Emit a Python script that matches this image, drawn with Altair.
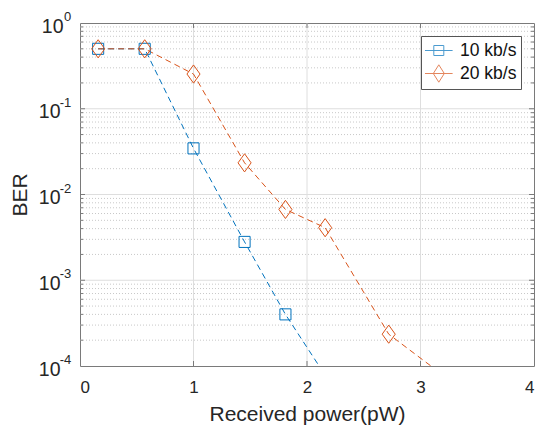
import altair as alt
import pandas as pd

# ---- data ----
series_names = ["10 kb/s", "20 kb/s"]
x_10 = [0.16, 0.57, 1.00, 1.45, 1.81, 2.16]
ber_10 = [0.5, 0.5, 0.0345, 0.0028, 0.00040, 0.000078]
x_20 = [0.16, 0.57, 1.00, 1.45, 1.81, 2.16, 2.72, 3.30]
ber_20 = [0.5, 0.5, 0.254, 0.0234, 0.0067, 0.0041, 0.000235, 0.000062]

x_ticks = [0, 1, 2, 3, 4]
x_grid = [1, 2, 3]
y_ticks = [1e-4, 1e-3, 1e-2, 1e-1, 1.0]
y_tick_base = "10"
y_tick_exponents = ["-4", "-3", "-2", "-1", "0"]
y_grid = [1e-3, 1e-2, 1e-1]
y_minor = [m * 10.0 ** e for e in range(-4, 0) for m in range(2, 10)]

colors = ["#0072BD", "#D95319"]
FONT = "Liberation Sans"
W, H = 454, 343

rows = []
for i, (x, y) in enumerate(zip(x_10, ber_10)):
    rows.append({"power": x, "ber": y, "series": series_names[0], "idx": i})
for i, (x, y) in enumerate(zip(x_20, ber_20)):
    rows.append({"power": x, "ber": y, "series": series_names[1], "idx": i})
df = pd.DataFrame(rows)

xscale = alt.Scale(domain=[0, 4], nice=False, zero=False)
yscale = alt.Scale(type="log", domain=[1e-4, 1], nice=False)
cscale = alt.Scale(domain=series_names, range=colors)

xaxis = alt.Axis(values=x_ticks, grid=False, ticks=False, tickSize=0, domain=False,
                 labelPadding=13, titlePadding=8, title="Received power(pW)")
yaxis = alt.Axis(values=y_ticks, grid=False, ticks=False, tickSize=0, domain=False,
                 labelPadding={"condition": {"test": "datum.value >= 0.5", "value": 17}, "value": 20},
                 labelOffset=3, labelFontSize=19.5, titlePadding=8, title="BER",
                 labelExpr="'%s'" % y_tick_base)

def X(field):
    return alt.X(field, scale=xscale, axis=xaxis)

def Y(field):
    return alt.Y(field, scale=yscale, axis=yaxis)

minor_df = pd.DataFrame({"v": y_minor})
ygrid_df = pd.DataFrame({"v": y_grid})
xgrid_df = pd.DataFrame({"v": x_grid})
ymajor_df = pd.DataFrame({"v": y_ticks[1:-1]})
xtick_df = pd.DataFrame({"v": x_ticks[1:-1]})
exp_df = pd.DataFrame({"v": y_ticks, "e": y_tick_exponents})

GRID = "#dedede"
TICK = "#7a7a7a"

minor_grid = alt.Chart(minor_df).mark_rule(color="#c8c8c8", strokeWidth=1, strokeDash=[1, 2]).encode(
    y=Y("v:Q"))
major_ygrid = alt.Chart(ygrid_df).mark_rule(color=GRID, strokeWidth=1).encode(y=Y("v:Q"))
major_xgrid = alt.Chart(xgrid_df).mark_rule(color=GRID, strokeWidth=1).encode(x=X("v:Q"))

def yticks(data, length):
    left = alt.Chart(data).mark_rule(color=TICK, strokeWidth=1).encode(
        y=Y("v:Q"), x=alt.value(0), x2=alt.value(length))
    right = alt.Chart(data).mark_rule(color=TICK, strokeWidth=1).encode(
        y=Y("v:Q"), x=alt.value(W), x2=alt.value(W - length))
    return [left, right]

def xticks(data, length):
    bottom = alt.Chart(data).mark_rule(color=TICK, strokeWidth=1).encode(
        x=X("v:Q"), y=alt.value(H), y2=alt.value(H - length))
    top = alt.Chart(data).mark_rule(color=TICK, strokeWidth=1).encode(
        x=X("v:Q"), y=alt.value(0), y2=alt.value(length))
    return [bottom, top]

# exponents of the y tick labels (superscripts)
exponents = alt.Chart(exp_df).mark_text(
    align="right", baseline="middle", font=FONT, fontSize=13, color="#262626", dy=-6, clip=False
).encode(y=Y("v:Q"), x=alt.value(-8.7), text="e:N")

base = alt.Chart(df)
lines = base.mark_line(strokeDash=[6, 4], strokeWidth=1, clip=True).encode(
    x=X("power:Q"), y=Y("ber:Q"),
    color=alt.Color("series:N", scale=cscale, legend=None),
    order="idx:Q",
)

sq_path = "M-0.61,-0.61H0.61V0.61H-0.61Z"
dia_path = "M0,-1L0.72,0L0,1L-0.72,0Z"
points = base.mark_point(filled=False, strokeWidth=1, clip=True, opacity=1, size=330).encode(
    x=X("power:Q"), y=Y("ber:Q"),
    color=alt.Color("series:N", scale=cscale, legend=None),
    shape=alt.Shape("series:N", scale=alt.Scale(domain=series_names, range=[sq_path, dia_path]),
                    legend=None),
)

leg_sq = "M-1.38,0H1.38M-0.5,-0.5H0.5V0.5H-0.5Z"
leg_dia = "M-1.38,0H1.38M0,-0.87L0.55,0L0,0.87L-0.55,0Z"
legend_layer = base.transform_filter("false").mark_point(filled=False, strokeWidth=1).encode(
    x=X("power:Q"), y=Y("ber:Q"),
    color=alt.Color("series:N", scale=alt.Scale(domain=series_names, range=colors),
                    legend=alt.Legend(title=None)),
    shape=alt.Shape("series:N", scale=alt.Scale(domain=series_names, range=[leg_sq, leg_dia]),
                    legend=alt.Legend(title=None)),
)

layers = ([minor_grid, major_ygrid, major_xgrid]
          + yticks(ymajor_df, 5) + yticks(minor_df, 3) + xticks(xtick_df, 5)
          + [exponents, lines, points, legend_layer])

chart = alt.layer(*layers).resolve_scale(shape="independent", color="independent").properties(
    width=W, height=H,
    autosize=alt.AutoSizeParams(type="none"),
    padding={"left": 72, "top": 15, "right": 6, "bottom": 60},
).configure_view(
    stroke="#7a7a7a", strokeWidth=1
).configure_axis(
    labelFont=FONT, labelFontSize=17, labelColor="#262626",
    titleFont=FONT, titleFontSize=21, titleFontWeight="normal", titleColor="#262626",
).configure_legend(
    orient="top-right", offset=13, padding=4, rowPadding=3,
    strokeColor="#555555", fillColor="white",
    labelFont=FONT, labelFontSize=17.5, labelColor="#111111",
    symbolSize=400, symbolStrokeWidth=1, labelOffset=10.7, symbolOffset=3.3,
)

chart.save("out.html", embed_options={"renderer": "svg", "actions": False})
